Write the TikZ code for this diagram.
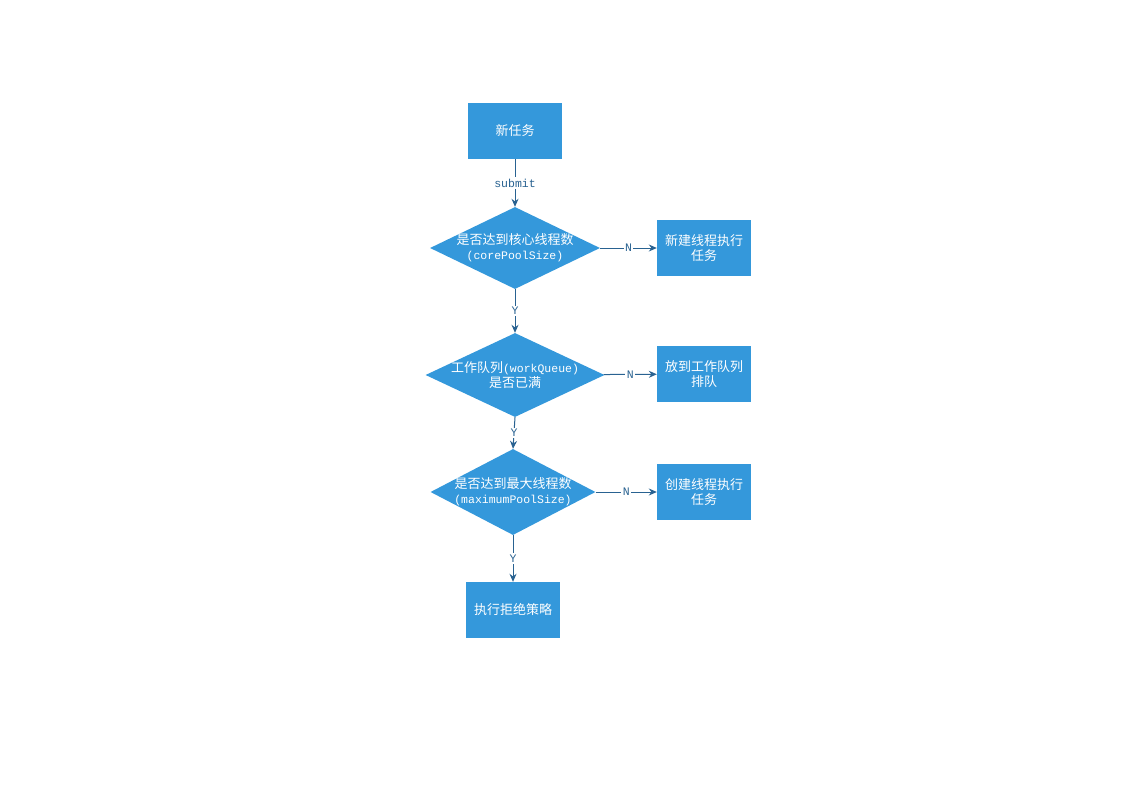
\documentclass[tikz,border=0pt]{standalone}
\usepackage{fontspec}
\setmonofont{Liberation Mono}
\newfontfamily\cjk{Noto Sans CJK SC}
\usetikzlibrary{arrows.meta,positioning,shapes.geometric}
\definecolor{boxblue}{RGB}{52,152,219}
\definecolor{lineblue}{RGB}{41,98,145}
\newcommand{\code}[1]{{\ttfamily\fontsize{11.5}{15}\selectfont #1}}

\begin{document}
\begin{tikzpicture}[x=1pt,y=-1pt,>={Stealth[length=8pt,width=7pt]},
  box/.style={fill=boxblue,text=white,minimum width=94pt,minimum height=56pt,inner sep=0pt,align=center,font=\cjk\fontsize{13}{15}\selectfont},
  test/.style={diamond,fill=boxblue,inner sep=0pt},
  txt/.style={text=white,align=center,inner sep=0pt,font=\cjk\fontsize{13}{15}\selectfont},
  lbl/.style={fill=white,text=lineblue,inner sep=1.5pt,font=\ttfamily\fontsize{11.5}{13}\selectfont},
  flow/.style={->,draw=lineblue,line width=1pt}]
\useasboundingbox (0,0) rectangle (1123,794);
\node[box] (task) at (515,131) {新任务};
\node[test,minimum width=170pt,minimum height=82pt,label={[txt]center:是否达到核心线程数\\\code{(corePoolSize)}}] (core) at (515,248) {};
\node[test,minimum width=179pt,minimum height=84pt,label={[txt]center:工作队列\code{(workQueue)}\\是否已满}] (queue) at (515,375) {};
\node[test,minimum width=165pt,minimum height=86pt,label={[txt]center:是否达到最大线程数\\\code{(maximumPoolSize)}}] (max) at (513,492) {};
\node[box] (reject) at (513,610) {执行拒绝策略};
\node[box] (newthread) at (704,248) {新建线程执行\\任务};
\node[box] (enqueue) at (704,374) {放到工作队列\\排队};
\node[box] (create) at (704,492) {创建线程执行\\任务};
\draw[flow] (task) -- node[lbl]{submit} (core);
\draw[flow] (core) -- node[lbl]{N} (newthread);
\draw[flow] (core) -- node[lbl]{Y} (queue);
\draw[flow] (queue) -- node[lbl]{N} (enqueue);
\draw[flow] (queue.south) -- node[lbl]{Y} (max.north);
\draw[flow] (max) -- node[lbl]{N} (create);
\draw[flow] (max) -- node[lbl]{Y} (reject);
\end{tikzpicture}
\end{document}
